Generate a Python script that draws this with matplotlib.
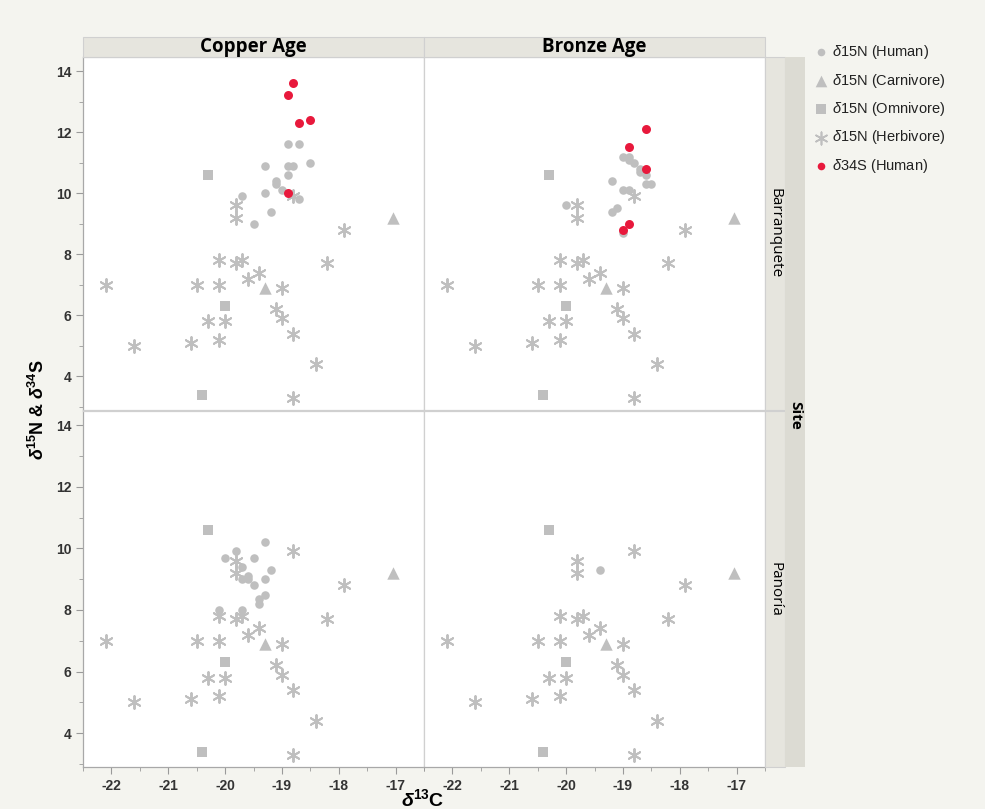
import matplotlib.pyplot as plt
from matplotlib.patches import Rectangle

plt.rcParams['font.family'] = ['Liberation Sans', 'DejaVu Sans']
plt.rcParams['axes.unicode_minus'] = False
plt.rcParams['mathtext.fontset'] = 'custom'
plt.rcParams['mathtext.rm'] = 'Liberation Sans'
plt.rcParams['mathtext.it'] = 'Liberation Sans:italic'
plt.rcParams['mathtext.bf'] = 'Liberation Sans:bold'
plt.rcParams['mathtext.bfit'] = 'Liberation Sans:italic:bold'

# fauna (same in every panel)
herb_x = [-22.1, -21.6, -20.6, -20.5, -20.1, -20.1, -20.1, -20.3, -20.0, -19.8, -19.7, -19.6,
          -19.4, -19.0, -19.1, -19.0, -18.8, -18.4, -18.8, -18.2, -17.9, -19.8, -19.8, -18.8]
herb_y = [7.0, 5.0, 5.1, 7.0, 7.8, 7.0, 5.2, 5.8, 5.8, 7.7, 7.8, 7.2,
          7.4, 6.9, 6.2, 5.9, 5.4, 4.4, 3.3, 7.7, 8.8, 9.6, 9.2, 9.9]
omni_x = [-20.3, -20.0, -20.4]
omni_y = [10.6, 6.3, 3.4]
carn_x = [-17.05, -19.3]
carn_y = [9.2, 6.9]

# humans, d15N
cu_bar_x = [-18.9, -18.7, -19.3, -18.9, -18.8, -18.5, -18.9, -19.1, -19.1, -19.3, -19.0,
            -19.7, -18.7, -19.2, -19.5]
cu_bar_y = [11.6, 11.6, 10.9, 10.9, 10.9, 11.0, 10.6, 10.4, 10.3, 10.0, 10.1,
            9.9, 9.8, 9.4, 9.0]
br_bar_x = [-19.0, -18.9, -18.9, -18.8, -18.7, -18.7, -18.6, -18.6, -18.5, -19.2, -19.0,
            -18.9, -20.0, -19.2, -19.1, -19.0]
br_bar_y = [11.2, 11.2, 11.1, 11.0, 10.8, 10.7, 10.6, 10.3, 10.3, 10.4, 10.1,
            10.1, 9.6, 9.4, 9.5, 8.7]
cu_pan_x = [-19.3, -19.8, -20.0, -19.5, -19.7, -19.2, -19.7, -19.6, -19.6, -19.5, -19.3,
            -19.3, -19.4, -19.4, -20.1, -19.7]
cu_pan_y = [10.2, 9.9, 9.7, 9.7, 9.4, 9.3, 9.0, 9.1, 9.0, 8.8, 9.0,
            8.5, 8.35, 8.2, 8.0, 8.0]
br_pan_x = [-19.4]
br_pan_y = [9.3]

# humans, d34S
cu_bar_sx = [-18.8, -18.9, -18.7, -18.5, -18.9]
cu_bar_sy = [13.6, 13.2, 12.3, 12.4, 10.0]
br_bar_sx = [-18.6, -18.9, -18.6, -18.9, -19.0]
br_bar_sy = [12.1, 11.5, 10.8, 9.0, 8.8]

periods = ['Copper Age', 'Bronze Age']
sites = ['Barranquete', 'Panoría']
human = {(0, 0): (cu_bar_x, cu_bar_y), (0, 1): (br_bar_x, br_bar_y),
         (1, 0): (cu_pan_x, cu_pan_y), (1, 1): (br_pan_x, br_pan_y)}
sulfur = {(0, 0): (cu_bar_sx, cu_bar_sy), (0, 1): (br_bar_sx, br_bar_sy)}

W, H = 985, 809
bg = '#f4f4ef'
strip = '#e6e5de'
strip2 = '#dcdbd3'
grey = '#bfbfbf'
red = '#e8193c'
asterisk = (6, 2, 0)

fig = plt.figure(figsize=(W / 100, H / 100), dpi=100, facecolor=bg)


def fx(px):
    return px / W


def fy(py):
    return 1 - py / H


cols = [(83, 424), (424, 765)]
rows = [(57, 410), (411, 767)]

for r, (t, b) in enumerate(rows):
    for c, (l, rr) in enumerate(cols):
        ax = fig.add_axes([fx(l), fy(b), fx(rr) - fx(l), fy(t) - fy(b)])
        ax.set_facecolor('white')
        ax.scatter(herb_x, herb_y, marker=asterisk, s=85, color=grey, linewidths=1.4, zorder=2)
        ax.scatter(omni_x, omni_y, marker='s', s=50, color=grey, linewidths=0, zorder=2)
        ax.scatter(carn_x, carn_y, marker='^', s=80, color=grey, linewidths=0, zorder=2)
        hx, hy = human[(r, c)]
        ax.scatter(hx, hy, marker='o', s=38, color=grey, linewidths=0, zorder=3)
        if (r, c) in sulfur:
            sx, sy = sulfur[(r, c)]
            ax.scatter(sx, sy, marker='o', s=42, color=red, linewidths=0, zorder=4)
        ax.set_xlim(-22.33, -16.8)
        ax.set_ylim(2.9, 14.46)
        ax.set_xticks(range(-22, -16))
        ax.set_xticks([v + 0.5 for v in range(-23, -16)], minor=True)
        ax.set_yticks(range(4, 15, 2))
        ax.set_yticks(range(3, 15, 2), minor=True)
        for s in ax.spines.values():
            s.set_color('#d0d0d0')
            s.set_linewidth(0.9)
        ax.tick_params(which='both', colors='#9a9a9a', labelcolor='#333333', labelsize=10,
                       direction='out')
        ax.tick_params(which='major', length=5)
        ax.tick_params(which='minor', length=3)
        for lab in ax.get_xticklabels() + ax.get_yticklabels():
            lab.set_fontweight('bold')
        if c == 0:
            ax.spines['left'].set_color('#a8a8a8')
        else:
            ax.tick_params(axis='y', which='both', left=False, labelleft=False)
        if r == 1:
            ax.spines['bottom'].set_color('#a8a8a8')
        else:
            ax.tick_params(axis='x', which='both', bottom=False, labelbottom=False)

# top strips
for c, (l, rr) in enumerate(cols):
    fig.patches.append(Rectangle((fx(l), fy(57)), fx(rr) - fx(l), fy(37) - fy(57),
                                 transform=fig.transFigure, facecolor=strip,
                                 edgecolor='#d0d0d0', linewidth=0.8))
    fig.text(fx((l + rr) / 2), fy(47), periods[c], ha='center', va='center',
             fontsize=13.5, fontweight='bold', family=['Open Sans', 'DejaVu Sans'])

# right strips
for r, (t, b) in enumerate(rows):
    fig.patches.append(Rectangle((fx(765), fy(b)), fx(785) - fx(765), fy(t) - fy(b),
                                 transform=fig.transFigure, facecolor=strip,
                                 edgecolor='#d0d0d0', linewidth=0.8))
    fig.text(fx(775), fy((t + b) / 2), sites[r], ha='center', va='center', rotation=-90,
             fontsize=11, family=['Open Sans', 'DejaVu Sans'])
fig.patches.append(Rectangle((fx(785), fy(767)), fx(805) - fx(785), fy(57) - fy(767),
                             transform=fig.transFigure, facecolor=strip2,
                             edgecolor='none'))
fig.text(fx(795), fy(415), 'Site', ha='center', va='center', rotation=-90,
         fontsize=11, fontweight='bold', family=['Open Sans', 'DejaVu Sans'])

# axis labels
fig.text(fx(423), fy(799), r'$\mathbfit{\delta}^{\mathbf{13}}$C', ha='center',
         va='center', fontsize=14, fontweight='bold')
fig.text(fx(38), fy(410),
         r'$\mathbfit{\delta}^{\mathbf{15}}$N & $\mathbfit{\delta}^{\mathbf{34}}$S',
         ha='center', va='center', rotation=90, fontsize=13, fontweight='bold')

# legend
leg_items = [('o', grey, 30, r'$\delta$15N (Human)'),
             ('^', grey, 70, r'$\delta$15N (Carnivore)'),
             ('s', grey, 45, r'$\delta$15N (Omnivore)'),
             (asterisk, grey, 80, r'$\delta$15N (Herbivore)'),
             ('o', red, 30, r'$\delta$34S (Human)')]
lax = fig.add_axes([fx(815), fy(180), fx(985) - fx(815), fy(38) - fy(180)])
lax.set_xlim(0, 170)
lax.set_ylim(142, 0)
lax.axis('off')
for i, (m, col, sz, lab) in enumerate(leg_items):
    yy = 14 + i * 28.5
    lax.scatter([6], [yy], marker=m, s=sz, color=col, linewidths=1.2 if m == asterisk else 0)
    lax.text(17, yy, lab, va='center', ha='left', fontsize=10.5, color='#222222')

fig.savefig('out.png', dpi=100, facecolor=bg)
